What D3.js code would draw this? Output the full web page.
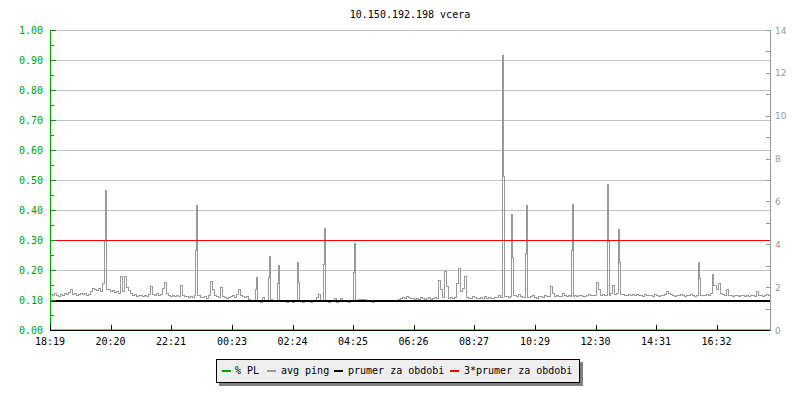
<!DOCTYPE html>
<html><head><meta charset="utf-8">
<script src="https://cdn.jsdelivr.net/npm/d3@7/dist/d3.min.js"></script>
<style>html,body{margin:0;padding:0;background:#fff;}svg{display:block;}</style>
</head><body>
<svg id="chart" width="800" height="400"></svg>
<script>
const title = "10.150.192.198 vcera";
const xTickLabels = ["18:19","20:20","22:21","00:23","02:24","04:25","06:26","08:27","10:29","12:30","14:31","16:32"];
const leftTicks = [0,0.1,0.2,0.3,0.4,0.5,0.6,0.7,0.8,0.9,1.0];
const rightTicks = [0,2,4,6,8,10,12,14];
const seriesNames = ["% PL","avg ping","prumer za obdobi","3*prumer za obdobi"];
const seriesColors = ["#00a000","#999999","#000000","#ff0000"];
const prumer = 1.4;       // ms (right axis) = 0.10 on left axis
const prumer3 = 4.2;      // ms
const packetLoss = [0,0];  // % PL, zero over the day
// avg ping (ms), one value per 4 minutes starting 18:19
const avgPing = [
1.65,1.6,1.7,1.62,1.58,1.68,1.6,1.72,1.66,1.75,1.9,1.65,1.7,1.62,1.68,1.72,1.65,1.7,1.62,1.68,
1.8,1.95,1.9,1.85,1.92,1.8,2.15,
1.9,1.9,
1.9,1.8,1.85,1.75,1.8,1.7,
2.49,1.8,2.52,2.0,1.85,1.7,
1.6,1.65,1.55,1.6,1.62,1.55,1.6,1.58,1.65,
2.02,1.65,
1.6,1.7,1.62,1.66,
1.95,2.21,1.7,
1.6,1.55,1.62,1.58,1.6,1.55,
2.1,1.6,
1.55,1.58,1.52,1.55,1.5,
1.6,1.6,1.6,
1.52,1.5,1.55,1.48,1.6,
2.26,1.9,1.6,
1.55,1.5,
1.97,1.55,
1.5,1.46,1.52,
1.55,1.6,1.5,1.65,1.87,1.6,1.55,1.5,1.58,1.42,1.4,1.35,
1.4,1.35,1.32,
1.3,1.5,1.35,
1.4,1.4,1.42,
1.32,1.35,
1.35,1.35,1.35,
1.32,1.36,1.3,1.34,1.32,1.3,1.35,
1.35,1.35,1.35,
1.3,1.33,1.36,1.32,1.3,1.33,1.35,
1.5,1.68,1.35,
1.35,1.35,1.35,
1.3,1.33,1.35,
1.45,1.3,1.33,1.48,1.32,
1.35,1.33,1.3,1.36,
1.35,1.35,1.36,
1.43,1.43,1.43,1.43,1.35,1.33,1.36,1.3,1.35,1.33,
1.35,1.33,1.36,1.35,1.32,1.33,1.35,1.37,1.33,1.36,1.42,1.46,1.5,1.45,1.55,1.5,
1.45,1.48,1.42,1.46,1.44,1.5,1.45,1.42,1.48,1.5,1.44,1.46,1.52,1.48,
2.29,1.87,1.5,
2.71,2.05,1.45,
1.5,1.48,1.52,
2.15,2.89,1.82,1.96,2.52,1.5,
1.45,1.48,1.55,1.5,1.45,1.48,1.5,1.45,1.55,1.48,1.5,1.45,1.48,1.52,1.5,1.6,1.5,
1.55,1.55,
1.55,1.5,
1.55,1.6,1.6,
1.55,1.65,1.55,1.5,
1.5,1.5,1.5,
1.55,1.6,1.5,1.48,1.55,1.58,1.5,1.6,1.55,1.58,
2.01,1.7,
1.55,1.6,1.58,1.55,
1.7,1.6,
1.55,1.6,
1.55,1.55,1.6,
1.55,1.6,1.62,1.55,1.58,1.6,1.65,
1.6,1.62,1.6,2.24,1.87,1.6,1.65,1.62,
1.6,1.6,1.7,2.08,1.65,
1.7,1.65,1.65,1.65,
1.6,1.62,1.68,
1.6,1.65,1.62,1.68,1.6,1.62,1.58,1.65,1.6,1.62,1.6,1.58,1.65,1.6,1.55,1.6,1.62,1.65,
1.82,1.7,1.65,
1.6,1.58,1.62,1.6,1.65,1.6,1.58,1.62,1.6,1.65,1.6,1.58,1.62,
1.62,1.62,1.62,
1.6,1.65,1.6,
1.7,2.1,2.1,1.87,2.15,1.7,
1.65,1.62,
1.87,1.62,
1.6,1.58,1.62,1.6,1.55,1.6,1.62,1.58,1.6,1.55,1.62,1.6,1.58,1.78,1.6,1.62,1.58,1.6,1.65,1.62
];
// short 2-minute samples (minutes after 18:19, ms) where the ping spiked
const spikeMinutes = [108,110, 290,292, 410,412, 436,438, 454,456, 494,496, 546,548, 606,608,
  904,906, 922,924, 950,952, 1042,1044, 1114,1116, 1136,1138, 1296,1298, 1324];
const spikeValues  = [4.2,6.5, 3.7,5.8, 1.91,2.47, 2.43,3.45, 2.19,3.03, 3.13,2.24, 3.08,4.74, 2.7,4.06,
  12.83,7.15, 5.41,3.39, 3.59,5.79, 3.69,5.88, 6.77,4.15, 4.7,3.13, 3.17,2.4, 2.61];

const svg = d3.select("#chart");
const L = 50, R = 770, T = 30, B = 330;
const DAY = 1440;
const x = d3.scaleLinear().domain([0, DAY]).range([L, R]);
const yL = d3.scaleLinear().domain([0, 1]).range([B, T]);
const yR = d3.scaleLinear().domain([0, 14]).range([B, T]);
const mono = "'DejaVu Sans Mono', monospace";

function toMin(lbl){
  const [h,m] = lbl.split(":").map(Number);
  const t0 = 18*60+19;
  return ((h*60+m) - t0 + DAY) % DAY;
}

// title
svg.append("text").attr("x", 410).attr("y", 18).attr("text-anchor","middle")
  .attr("font-family", mono).attr("font-size", 10).attr("fill","#000").text(title);

// grid
svg.append("g").attr("shape-rendering","crispEdges").selectAll("line").data(leftTicks.filter(d=>d>0)).join("line")
  .attr("x1", L).attr("x2", R).attr("y1", d=>Math.round(yL(d))+0.5).attr("y2", d=>Math.round(yL(d))+0.5)
  .attr("stroke","#c0c0c0").attr("stroke-width",1);

// series at 2-minute resolution
const step = DAY / avgPing.length;
const sub = step / 2;
const pingMap = new Map();
avgPing.forEach((v,i)=>{ pingMap.set(i*step, v); pingMap.set(i*step+sub, v); });
spikeMinutes.forEach((m,j)=> pingMap.set(m, spikeValues[j]));
const pingPts = Array.from(pingMap.entries()).sort((a,b)=>a[0]-b[0]);
pingPts.push([DAY, avgPing[avgPing.length-1]]);
const lineR = d3.line().x(d=>x(d[0])).y(d=>yR(d[1])).curve(d3.curveStepAfter);

svg.append("path").datum([[0,packetLoss[0]],[DAY,packetLoss[1]]])
  .attr("d", d3.line().x(d=>x(d[0])).y(d=>yL(d[1]/100)))
  .attr("fill","none").attr("stroke",seriesColors[0]).attr("stroke-width",1);

svg.append("path").datum(pingPts).attr("d", lineR)
  .attr("fill","none").attr("stroke",seriesColors[1]).attr("stroke-width",1)
  .attr("shape-rendering","crispEdges");

svg.append("path").datum([[0,prumer],[DAY,prumer]]).attr("d", d3.line().x(d=>x(d[0])).y(d=>yR(d[1])+1))
  .attr("fill","none").attr("stroke",seriesColors[2]).attr("stroke-width",2)
  .attr("shape-rendering","crispEdges");

svg.append("path").datum([[0,prumer3],[DAY,prumer3]]).attr("d", d3.line().x(d=>x(d[0])).y(d=>yR(d[1])+0.5))
  .attr("fill","none").attr("stroke",seriesColors[3]).attr("stroke-width",1)
  .attr("shape-rendering","crispEdges");

// left axis
const gL = svg.append("g").attr("shape-rendering","crispEdges");
gL.append("line").attr("x1",L+0.5).attr("x2",L+0.5).attr("y1",T).attr("y2",B+1).attr("stroke","#00a000");
const minorL = d3.range(0, 1.0001, 0.05);
gL.selectAll("line.t").data(minorL).join("line").attr("class","t")
  .attr("x1",L).attr("x2",(d,i)=> i%2===0 ? L+6 : L+4)
  .attr("y1",d=>Math.round(yL(d))+0.5).attr("y2",d=>Math.round(yL(d))+0.5).attr("stroke","#00a000");
svg.append("g").selectAll("text").data(leftTicks).join("text")
  .attr("x", 43).attr("y", d=>yL(d)+4).attr("text-anchor","end")
  .attr("font-family", mono).attr("font-size",10).attr("fill","#00a000")
  .text(d=>d3.format(".2f")(d));

// right axis
const gR = svg.append("g").attr("shape-rendering","crispEdges");
gR.append("line").attr("x1",R+0.5).attr("x2",R+0.5).attr("y1",T).attr("y2",B+1).attr("stroke","#999");
gR.selectAll("line.t").data(d3.range(0,15)).join("line").attr("class","t")
  .attr("x1",R-4).attr("x2",R+1)
  .attr("y1",d=>Math.round(yR(d))+0.5).attr("y2",d=>Math.round(yR(d))+0.5).attr("stroke","#999");
svg.append("g").selectAll("text").data(rightTicks).join("text")
  .attr("x", 775).attr("y", d=>yR(d)+3.5)
  .attr("font-family","'DejaVu Sans', sans-serif").attr("font-size",9).attr("fill","#999")
  .text(d=>d);

// bottom axis
const gB = svg.append("g").attr("shape-rendering","crispEdges");
gB.append("line").attr("x1",L).attr("x2",R).attr("y1",B+0.5).attr("y2",B+0.5).attr("stroke","#000");
gB.selectAll("line.t").data(xTickLabels).join("line").attr("class","t")
  .attr("x1",d=>Math.round(x(toMin(d)))+0.5).attr("x2",d=>Math.round(x(toMin(d)))+0.5)
  .attr("y1",B-5).attr("y2",B).attr("stroke","#000");
svg.append("g").selectAll("text").data(xTickLabels).join("text")
  .attr("x", d=>x(toMin(d))).attr("y", 345).attr("text-anchor","middle")
  .attr("font-family", mono).attr("font-size",10).attr("fill","#000").text(d=>d);

// legend
const lg = svg.append("g");
lg.append("rect").attr("x",219).attr("y",362).attr("width",364).attr("height",24).attr("fill","#808080");
lg.append("rect").attr("x",216.5).attr("y",359.5).attr("width",363).attr("height",23)
  .attr("fill","#eeeeee").attr("stroke","#000").attr("stroke-width",1);
const swatchX = [222, 267, 334, 450];
const textX = [235, 281, 348, 464];
seriesNames.forEach((n,i)=>{
  lg.append("line").attr("x1",swatchX[i]).attr("x2",swatchX[i]+9).attr("y1",371).attr("y2",371)
    .attr("stroke",seriesColors[i]).attr("stroke-width",2).attr("shape-rendering","crispEdges");
  lg.append("text").attr("x",textX[i]).attr("y",374).attr("font-family",mono).attr("font-size",10)
    .attr("fill","#000").text(n);
});
</script>
</body></html>
